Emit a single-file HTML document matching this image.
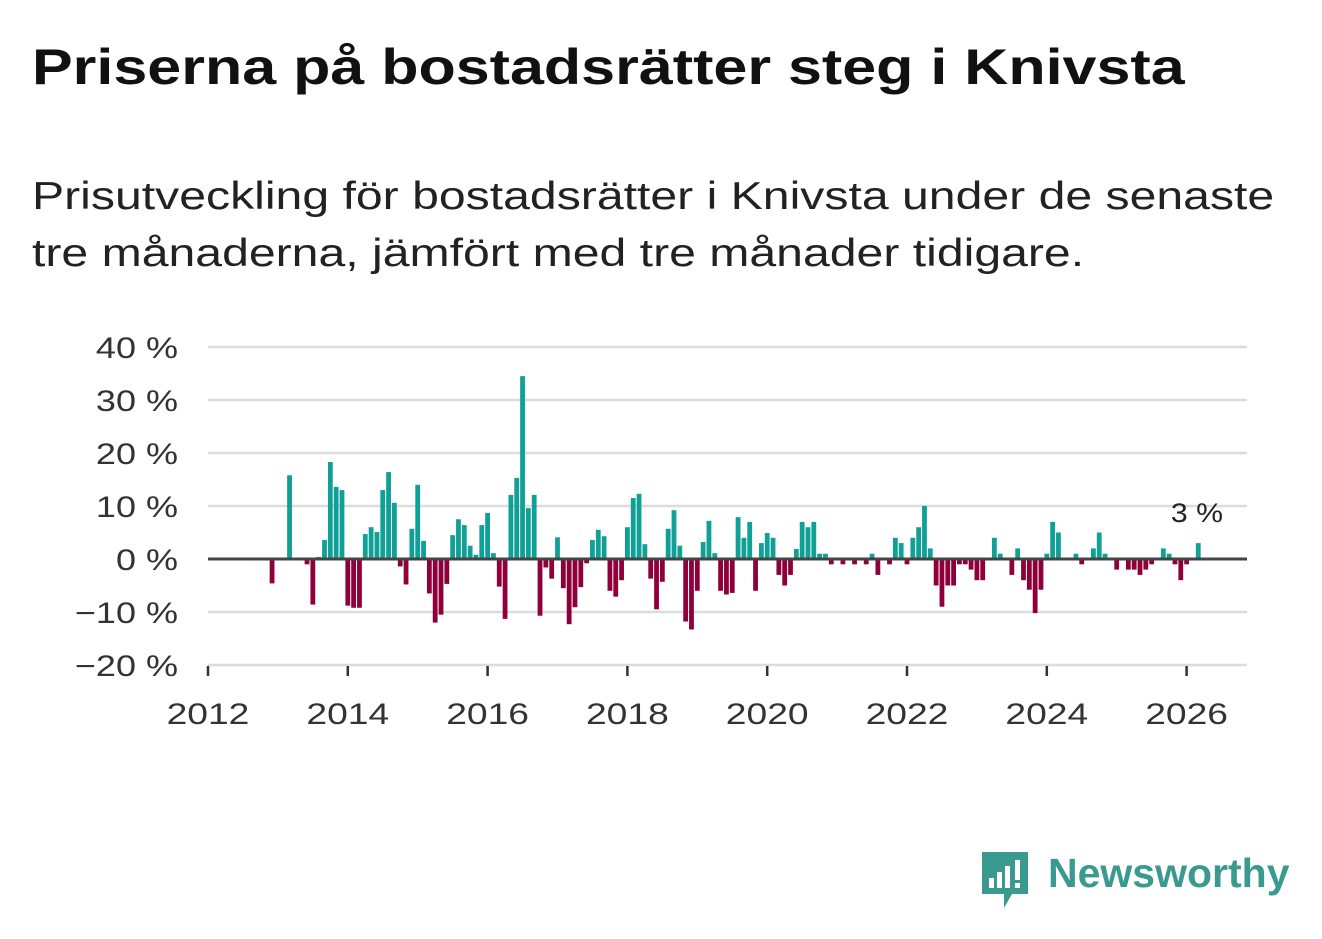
<!DOCTYPE html>
<html><head><meta charset="utf-8">
<style>
body{margin:0;background:#fff;width:1322px;height:939px;overflow:hidden;font-family:"Liberation Sans","DejaVu Sans",sans-serif;}
h1{position:absolute;left:32px;top:38px;margin:0;font-size:50px;font-weight:bold;color:#111;white-space:nowrap;transform:scaleX(1.22);transform-origin:left top}
p.sub{position:absolute;left:32px;top:168px;margin:0;font-size:39px;line-height:57px;color:#222;white-space:nowrap;transform:scaleX(1.235);transform-origin:left top}
svg{position:absolute;left:0;top:0}
</style></head><body>
<h1>Priserna på bostadsrätter steg i Knivsta</h1>
<p class="sub">Prisutveckling för bostadsrätter i Knivsta under de senaste<br>tre månaderna, jämfört med tre månader tidigare.</p>
<svg id="chart" width="1322" height="939"></svg>
<div style="position:absolute;left:982px;top:850px;width:320px;height:60px">
<svg width="48" height="60" style="position:absolute;left:0;top:0">
<path d="M0 2h46v42H30l-8 14v-14H0z" fill="#3a9a8f"/>
<rect x="7" y="28" width="5" height="10" fill="#fff"/><rect x="15" y="22" width="5" height="16" fill="#fff"/><rect x="23" y="16" width="5" height="22" fill="#fff"/><rect x="33" y="10" width="5" height="20" fill="#fff"/><rect x="33" y="33" width="5" height="5" fill="#fff"/>
</svg>
<span style="position:absolute;left:66px;top:0;font-size:41px;font-weight:bold;color:#3a9a8f">Newsworthy</span>
</div>
<script>
const months=[11,14,17,18,19,20,21,22,23,24,25,26,27,28,29,30,31,32,33,34,35,36,37,38,39,40,41,42,43,44,45,46,47,48,49,50,51,52,53,54,55,56,57,58,59,60,61,62,63,64,65,66,67,68,69,70,71,72,73,74,75,76,77,78,79,80,81,82,83,84,85,86,87,88,89,90,91,92,93,94,95,96,97,98,99,100,101,102,103,104,105,106,107,109,111,113,114,115,117,118,119,120,121,122,123,124,125,126,127,128,129,130,131,132,133,135,136,138,139,140,141,142,143,144,145,146,149,150,152,153,154,156,158,159,160,161,162,164,165,166,167,168,170];
const values=[-4.6,15.8,-1,-8.6,0.4,3.6,18.3,13.6,13,-8.8,-9.2,-9.2,4.7,6,5.1,13,16.4,10.6,-1.4,-4.8,5.7,14,3.4,-6.5,-12,-10.5,-4.7,4.5,7.5,6.4,2.5,0.8,6.4,8.7,1.1,-5.2,-11.3,12.1,15.3,34.5,9.6,12.1,-10.7,-1.6,-3.7,4.1,-5.5,-12.3,-9.1,-5.3,-0.8,3.6,5.5,4.3,-6,-7.1,-4,6,11.5,12.3,2.8,-3.7,-9.5,-4.3,5.7,9.2,2.5,-11.8,-13.3,-6,3.2,7.2,1.1,-6,-6.7,-6.4,7.9,4,7,-6,3,4.9,4,-3,-5,-3,1.9,7,6,7,1,1,-1,-1,-1,-1,1,-3,-1,4,3,-1,4,6,10,2,-5,-9,-5,-5,-1,-1,-2,-4,-4,4,1,-3,2,-4,-5.8,-10.2,-5.8,1,7,5,1,-1,2,5,1,-2,-2,-2,-3,-2,-1,2,1,-1,-4,-1,3];
const yTicks=[40,30,20,10,0,-10,-20];
const yTickLabels=["40 %","30 %","20 %","10 %","0 %","−10 %","−20 %"];
const xTicks=[2012,2014,2016,2018,2020,2022,2024,2026];
const lastLabel="3 %";
const NS="http://www.w3.org/2000/svg";
const svg=document.getElementById('chart');
const X0=208,X1=1247,yZero=559,perTen=53;
const y=v=>yZero-v*perTen/10;
const xm=m=>X0+m*5.825;
const xy=yr=>X0+(yr-2012)*12*5.825;
function mk(tag,attrs){const e=document.createElementNS(NS,tag);for(const k in attrs)e.setAttribute(k,attrs[k]);svg.appendChild(e);return e;}
function widen(t,f){const w=t.getComputedTextLength();t.setAttribute('textLength',w*f);t.setAttribute('lengthAdjust','spacingAndGlyphs');}
yTicks.forEach((t,i)=>{
  if(t!==0){const g=mk('line',{x1:X0,x2:X1,y1:y(t),y2:y(t),stroke:'#dcdcdc','stroke-width':2.5});
  
  }
  const tx=mk('text',{x:178,y:y(t)+11,'text-anchor':'end','font-size':30,fill:'#333','font-family':'Liberation Sans, sans-serif'});
  tx.textContent=yTickLabels[i];
  
  
  widen(tx,1.2);
});
months.forEach((m,i)=>{
  const v=values[i];const top=Math.min(y(v),yZero),h=Math.abs(y(v)-yZero);
  const r=mk('rect',{x:xm(m)-2.4,y:top,width:4.8,height:Math.max(h,0.5),fill:v>=0?'#10a096':'#8f003b'});
  
  
});
const z=mk('line',{x1:X0,x2:X1,y1:yZero,y2:yZero,stroke:'#444','stroke-width':3});


xTicks.forEach(t=>{
  const l=mk('line',{x1:xy(t),x2:xy(t),y1:666,y2:676,stroke:'#333','stroke-width':2.5});
  
  
  const tx=mk('text',{x:xy(t),y:724,'text-anchor':'middle','font-size':30,fill:'#333','font-family':'Liberation Sans, sans-serif'});
  tx.textContent=t;
  
  
  widen(tx,1.24);
});
const ll=mk('text',{x:1197,y:522,'text-anchor':'middle','font-size':27,fill:'#222','font-family':'Liberation Sans, sans-serif'});
ll.textContent=lastLabel;


widen(ll,1.12);
</script>
</body></html>
